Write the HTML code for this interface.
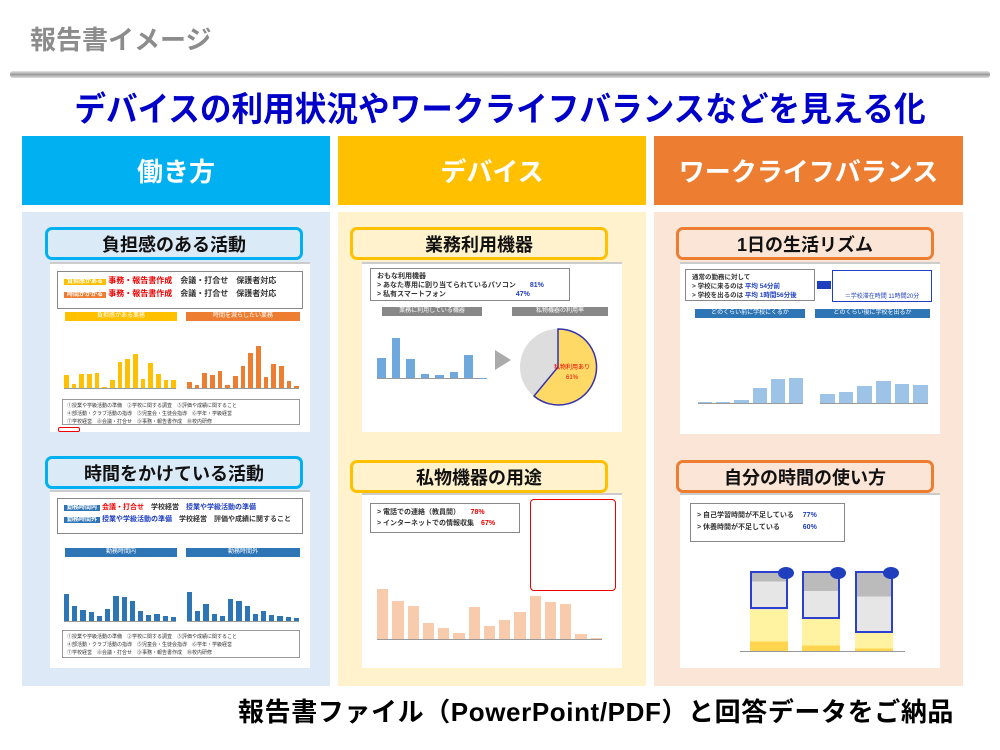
<!DOCTYPE html>
<html><head><meta charset="utf-8"><style>
*{margin:0;padding:0;box-sizing:border-box}
body{width:1000px;height:750px;background:#fff;position:relative;overflow:hidden;font-family:"Liberation Sans","Noto Sans CJK JP",sans-serif}
.a{position:absolute}
.hd{position:absolute;top:136px;height:69px;color:#fff;font-size:26px;font-weight:bold;display:flex;align-items:center;justify-content:center}
.pn{position:absolute;top:212px;height:474px;width:308px}
.lb{position:absolute;height:33px;width:258px;border:3px solid;border-radius:7px;font-size:18px;font-weight:bold;display:flex;align-items:center;justify-content:center;color:#111;z-index:2}
.th{position:absolute;width:260px;background:#fff;border-top:2px solid #ccc;font-size:7px;color:#333;overflow:hidden}
.bars{position:absolute;display:flex;align-items:flex-end;gap:3px;border-bottom:1px solid #999}
.bars div{flex:1}
.box{position:absolute;border:1px solid #888;background:#fff;font-size:8px;font-weight:bold;padding:3px 6px;line-height:11px}
.bn{position:absolute;height:9px;color:#fff;font-size:6px;text-align:center;line-height:9px}
.leg{position:absolute;background:#fff;border:1px solid #999;font-size:5px;line-height:8px;padding:2px 4px;color:#333}
</style></head><body>
<div class="a" style="left:30px;top:20px;font-size:26px;font-weight:bold;color:#8c8c8c">報告書イメージ</div>
<div class="a" style="left:10px;top:71px;width:980px;height:7px;background:linear-gradient(#e6e6e6,#9a9a9a,#e0e0e0);border-radius:3px"></div>
<div class="a" style="left:0;top:82px;width:1000px;text-align:center;font-size:34px;font-weight:bold;color:#0000c8;transform:scaleX(0.93)">デバイスの利用状況やワークライフバランスなどを見える化</div>

<div class="hd" style="left:22px;width:308px;background:#00b0f0">働き方</div>
<div class="hd" style="left:338px;width:308px;background:#ffc000">デバイス</div>
<div class="hd" style="left:654px;width:309px;background:#ed7d31">ワークライフバランス</div>

<div class="pn" style="left:22px;background:#dde9f6"></div>
<div class="pn" style="left:338px;background:#fff2cc"></div>
<div class="pn" style="left:654px;width:309px;background:#fbe5d6"></div>

<div class="lb" style="left:45px;top:227px;border-color:#00b0f0;background:#dbeaf7">負担感のある活動</div>
<div class="lb" style="left:45px;top:456px;border-color:#00b0f0;background:#dbeaf7">時間をかけている活動</div>
<div class="lb" style="left:350px;top:227px;border-color:#ffc000;background:#fff2cc">業務利用機器</div>
<div class="lb" style="left:350px;top:460px;border-color:#ffc000;background:#fff2cc">私物機器の用途</div>
<div class="lb" style="left:676px;top:227px;border-color:#ed7d31;background:#fbe5d6">1日の生活リズム</div>
<div class="lb" style="left:676px;top:460px;border-color:#ed7d31;background:#fbe5d6">自分の時間の使い方</div>

<div class="th" style="left:50px;top:262px;height:170px">
 <div class="box" style="left:7px;top:7px;width:246px;height:38px;font-size:8px;font-weight:bold">
  <span style="background:#ffc000;color:#fff;font-size:6px;padding:0 3px">負担感がある</span> <span style="color:#e00">事務・報告書作成</span>　会議・打合せ　保護者対応<br>
  <span style="background:#ed7d31;color:#fff;font-size:6px;padding:0 3px">時間がかかる</span> <span style="color:#e00">事務・報告書作成</span>　会議・打合せ　保護者対応</div>
 <div class="bn" style="left:15px;top:48px;width:112px;background:#ffc000">負担感がある業務</div>
 <div class="bn" style="left:136px;top:48px;width:114px;background:#ed7d31">時間を減らしたい業務</div>
 <div class="bars" style="left:14px;top:75px;width:112px;height:50px"><div style="height:26%;background:#ffc000"></div><div style="height:9%;background:#ffc000"></div><div style="height:29%;background:#ffc000"></div><div style="height:29%;background:#ffc000"></div><div style="height:30%;background:#ffc000"></div><div style="height:3%;background:#ffc000"></div><div style="height:17%;background:#ffc000"></div><div style="height:53%;background:#ffc000"></div><div style="height:60%;background:#ffc000"></div><div style="height:70%;background:#ffc000"></div><div style="height:18%;background:#ffc000"></div><div style="height:52%;background:#ffc000"></div><div style="height:28%;background:#ffc000"></div><div style="height:16%;background:#ffc000"></div><div style="height:16%;background:#ffc000"></div></div>
 <div class="bars" style="left:137px;top:75px;width:112px;height:50px"><div style="height:12%;background:#ed7d31"></div><div style="height:6%;background:#ed7d31"></div><div style="height:30%;background:#ed7d31"></div><div style="height:27%;background:#ed7d31"></div><div style="height:35%;background:#ed7d31"></div><div style="height:7%;background:#ed7d31"></div><div style="height:25%;background:#ed7d31"></div><div style="height:45%;background:#ed7d31"></div><div style="height:72%;background:#ed7d31"></div><div style="height:85%;background:#ed7d31"></div><div style="height:22%;background:#ed7d31"></div><div style="height:50%;background:#ed7d31"></div><div style="height:44%;background:#ed7d31"></div><div style="height:15%;background:#ed7d31"></div><div style="height:5%;background:#ed7d31"></div></div>
 <div class="leg" style="left:12px;top:135px;width:238px;height:26px">①授業や学級活動の準備　②学校に関する調査　③評価や成績に関すること<br>④部活動・クラブ活動の指導　⑤児童会・生徒会指導　⑥学年・学級経営<br>⑦学校経営　⑧会議・打合せ　⑨事務・報告書作成　⑩校内研修</div>
 <div class="a" style="left:8px;top:163px;width:22px;height:5px;border:1px solid #e00;border-radius:2px"></div>
</div>

<div class="th" style="left:50px;top:490px;height:178px">
 <div class="box" style="left:7px;top:6px;width:246px;height:36px;font-size:7px">
  <span style="background:#2e75b6;color:#fff;font-size:6px;padding:0 3px">勤務時間内</span> <span style="color:#e00">会議・打合せ</span>　学校経営　<span style="color:#1f3fbf">授業や学級活動の準備</span><br>
  <span style="background:#2e75b6;color:#fff;font-size:6px;padding:0 3px">勤務時間外</span> <span style="color:#1f3fbf">授業や学級活動の準備</span>　学校経営　評価や成績に関すること</div>
 <div class="bn" style="left:15px;top:56px;width:112px;background:#2e75b6">勤務時間内</div>
 <div class="bn" style="left:136px;top:56px;width:114px;background:#2e75b6">勤務時間外</div>
 <div class="bars" style="left:14px;top:80px;width:112px;height:50px"><div style="height:55%;background:#2e75b6"></div><div style="height:30%;background:#2e75b6"></div><div style="height:22%;background:#2e75b6"></div><div style="height:18%;background:#2e75b6"></div><div style="height:10%;background:#2e75b6"></div><div style="height:25%;background:#2e75b6"></div><div style="height:52%;background:#2e75b6"></div><div style="height:50%;background:#2e75b6"></div><div style="height:40%;background:#2e75b6"></div><div style="height:20%;background:#2e75b6"></div><div style="height:12%;background:#2e75b6"></div><div style="height:14%;background:#2e75b6"></div><div style="height:10%;background:#2e75b6"></div><div style="height:8%;background:#2e75b6"></div></div>
 <div class="bars" style="left:137px;top:80px;width:112px;height:50px"><div style="height:60%;background:#2e75b6"></div><div style="height:20%;background:#2e75b6"></div><div style="height:35%;background:#2e75b6"></div><div style="height:15%;background:#2e75b6"></div><div style="height:10%;background:#2e75b6"></div><div style="height:45%;background:#2e75b6"></div><div style="height:40%;background:#2e75b6"></div><div style="height:30%;background:#2e75b6"></div><div style="height:15%;background:#2e75b6"></div><div style="height:20%;background:#2e75b6"></div><div style="height:12%;background:#2e75b6"></div><div style="height:10%;background:#2e75b6"></div><div style="height:8%;background:#2e75b6"></div><div style="height:6%;background:#2e75b6"></div></div>
 <div class="leg" style="left:12px;top:138px;width:238px;height:28px">①授業や学級活動の準備　②学校に関する調査　③評価や成績に関すること<br>④部活動・クラブ活動の指導　⑤児童会・生徒会指導　⑥学年・学級経営<br>⑦学校経営　⑧会議・打合せ　⑨事務・報告書作成　⑩校内研修</div>
</div>

<div class="th" style="left:362px;top:262px;height:170px">
 <div class="box" style="left:8px;top:4px;width:200px;height:33px;font-size:7px;line-height:9px">おもな利用機器<br>&gt; あなた専用に割り当てられているパソコン　　<span style="color:#1f3fbf">81%</span><br>&gt; 私有スマートフォン　　　　　　　　　　<span style="color:#1f3fbf">47%</span></div>
 <div class="bn" style="left:20px;top:43px;width:100px;background:#888">業務に利用している機器</div>
 <div class="bn" style="left:150px;top:43px;width:96px;background:#888">私物機器の利用率</div>
 <div class="bars" style="left:15px;top:65px;width:110px;height:50px;gap:6px"><div style="height:40%;background:#6fa8dc"></div><div style="height:81%;background:#6fa8dc"></div><div style="height:39%;background:#6fa8dc"></div><div style="height:8%;background:#6fa8dc"></div><div style="height:6%;background:#6fa8dc"></div><div style="height:13%;background:#6fa8dc"></div><div style="height:47%;background:#6fa8dc"></div><div style="height:1%;background:#6fa8dc"></div></div>
 <div class="a" style="left:133px;top:86px;width:0;height:0;border-left:16px solid #aaa;border-top:10px solid transparent;border-bottom:10px solid transparent"></div>
 <svg class="a" style="left:155px;top:62px" width="82" height="82" viewBox="-41 -41 82 82"><circle r="38" fill="#ddd"/><path d="M0,0 L0,-38 A38,38 0 1,1 -24,29 Z" fill="#ffd966" stroke="#3333aa" stroke-width="1.5"/><text x="14" y="2" font-size="6" fill="#e00" text-anchor="middle">私物利用あり</text><text x="14" y="12" font-size="6" fill="#e00" text-anchor="middle">61%</text></svg>
</div>

<div class="th" style="left:362px;top:493px;height:175px">
 <div class="box" style="left:8px;top:8px;width:150px;height:30px;font-size:7px;line-height:11px">&gt; 電話での連絡（教員間）　　<span style="color:#e00">78%</span><br>&gt; インターネットでの情報収集　<span style="color:#e00">67%</span></div>
 <div class="a" style="left:168px;top:4px;width:86px;height:92px;border:1px solid #e00;border-radius:4px;background:#fff"></div>
 <div class="bars" style="left:15px;top:80px;width:225px;height:65px;gap:4px"><div style="height:78%;background:#f8cbad"></div><div style="height:60%;background:#f8cbad"></div><div style="height:52%;background:#f8cbad"></div><div style="height:25%;background:#f8cbad"></div><div style="height:17%;background:#f8cbad"></div><div style="height:10%;background:#f8cbad"></div><div style="height:50%;background:#f8cbad"></div><div style="height:20%;background:#f8cbad"></div><div style="height:30%;background:#f8cbad"></div><div style="height:42%;background:#f8cbad"></div><div style="height:67%;background:#f8cbad"></div><div style="height:58%;background:#f8cbad"></div><div style="height:55%;background:#f8cbad"></div><div style="height:8%;background:#f8cbad"></div><div style="height:2%;background:#f8cbad"></div></div>
</div>

<div class="th" style="left:680px;top:262px;height:172px">
 <div class="box" style="left:5px;top:5px;width:130px;height:32px;font-size:6.5px;line-height:9px">通常の勤務に対して<br>&gt; 学校に来るのは <span style="color:#1f3fbf">平均 54分前</span><br>&gt; 学校を出るのは <span style="color:#1f3fbf">平均 1時間56分後</span></div>
 <div class="a" style="left:137px;top:17px;width:14px;height:8px;background:#1f3fbf"></div>
 <div class="a" style="left:152px;top:6px;width:100px;height:32px;border:1px solid #1f3fbf;font-size:6px;color:#1f3fbf;text-align:center;padding-top:20px">＝学校滞在時間 11時間20分</div>
 <div class="bn" style="left:15px;top:45px;width:110px;background:#2e75b6">どのくらい前に学校にくるか</div>
 <div class="bn" style="left:135px;top:45px;width:115px;background:#2e75b6">どのくらい後に学校を出るか</div>
 <div class="bars" style="left:18px;top:80px;width:105px;height:60px;gap:4px"><div style="height:1%;background:#9dc3e6"></div><div style="height:2%;background:#9dc3e6"></div><div style="height:5%;background:#9dc3e6"></div><div style="height:25%;background:#9dc3e6"></div><div style="height:40%;background:#9dc3e6"></div><div style="height:42%;background:#9dc3e6"></div></div>
 <div class="bars" style="left:140px;top:80px;width:108px;height:60px;gap:4px"><div style="height:15%;background:#9dc3e6"></div><div style="height:18%;background:#9dc3e6"></div><div style="height:28%;background:#9dc3e6"></div><div style="height:38%;background:#9dc3e6"></div><div style="height:33%;background:#9dc3e6"></div><div style="height:30%;background:#9dc3e6"></div></div>
</div>

<div class="th" style="left:680px;top:493px;height:175px">
 <div class="box" style="left:10px;top:8px;width:155px;height:39px;font-size:7px;line-height:12px;padding-top:6px">&gt; 自己学習時間が不足している　 <span style="color:#1f3fbf">77%</span><br>&gt; 休養時間が不足している　　　 <span style="color:#1f3fbf">60%</span></div>
 <div class="a" style="left:70px;top:76px;width:38px;height:80px;background:linear-gradient(#bbb 0 13%,#e6e6e6 13% 48%,#fff2a0 48% 88%,#ffd54f 88%)"></div>
 <div class="a" style="left:70px;top:76px;width:38px;height:38px;border:2px solid #2b3fd0"></div>
 <div class="a" style="left:122px;top:76px;width:38px;height:80px;background:linear-gradient(#bbb 0 25%,#e6e6e6 25% 60%,#fff2a0 60% 93%,#ffd54f 93%)"></div>
 <div class="a" style="left:122px;top:76px;width:38px;height:48px;border:2px solid #2b3fd0"></div>
 <div class="a" style="left:175px;top:76px;width:38px;height:80px;background:linear-gradient(#bbb 0 32%,#e6e6e6 32% 77%,#fff2a0 77% 97%,#ffd54f 97%)"></div>
 <div class="a" style="left:175px;top:76px;width:38px;height:62px;border:2px solid #2b3fd0"></div>
 <div class="a" style="left:98px;top:72px;width:16px;height:12px;border-radius:50%;background:#1f3fbf"></div>
 <div class="a" style="left:150px;top:72px;width:16px;height:12px;border-radius:50%;background:#1f3fbf"></div>
 <div class="a" style="left:203px;top:72px;width:16px;height:12px;border-radius:50%;background:#1f3fbf"></div>
 <div class="a" style="left:60px;top:156px;width:165px;height:1px;background:#999"></div>
</div>

<div class="a" style="left:238px;top:692px;font-size:26px;font-weight:bold;color:#000;white-space:nowrap;letter-spacing:0.6px">報告書ファイル（PowerPoint/PDF）と回答データをご納品</div>
</body></html>
